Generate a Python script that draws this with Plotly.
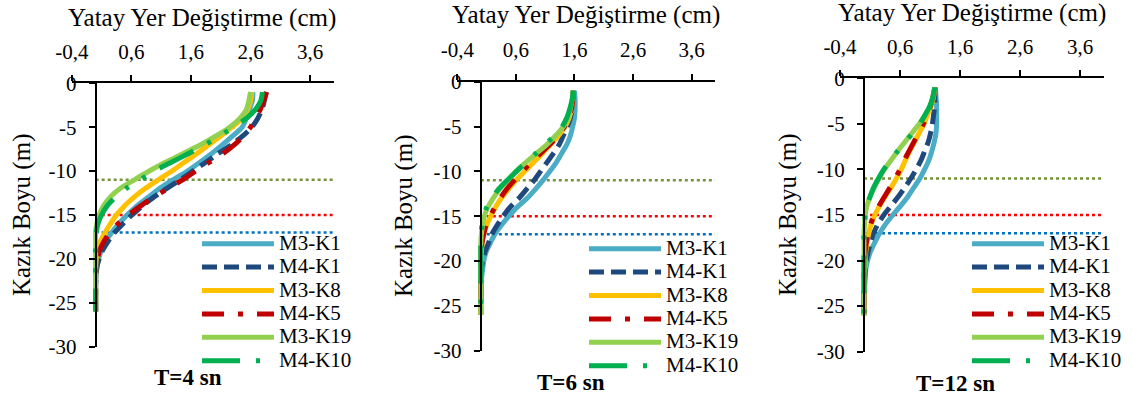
import plotly.graph_objects as go

# ---------------- data ----------------
depth = [-1, -2, -3, -4, -5, -6, -7, -8, -9, -10, -11, -12, -13, -14, -15, -16,
         -17, -18, -19, -20, -21, -22, -23, -24, -25, -26]

series_names = ["M3-K1", "M4-K1", "M3-K8", "M4-K5", "M3-K19", "M4-K10"]
panel_labels = ["T=4 sn", "T=6 sn", "T=12 sn"]
x_tick_vals = [-0.4, 0.6, 1.6, 2.6, 3.6]
x_tick_text = ["-0,4", "0,6", "1,6", "2,6", "3,6"]
y_tick_vals = [0, -5, -10, -15, -20, -25, -30]
y_tick_text = ["0", "-5", "-10", "-15", "-20", "-25", "-30"]
ref_levels = [-11, -15, -17]
ref_x = [0, 4.0]

# T = 4 sn
t4_m3k1 = [2.64, 2.63, 2.58, 2.53, 2.46, 2.30, 2.13, 1.95, 1.75, 1.54, 1.30, 1.07, 0.88,
           0.69, 0.53, 0.39, 0.27, 0.17, 0.10, 0.05, 0.02, 0.01, 0, 0, 0, 0]
t4_m4k1 = [2.86, 2.83, 2.79, 2.72, 2.62, 2.47, 2.28, 2.06, 1.85, 1.63, 1.42, 1.19, 0.97,
           0.78, 0.61, 0.46, 0.32, 0.21, 0.12, 0.06, 0.02, 0.01, 0, 0, 0, 0]
t4_m3k8 = [2.62, 2.60, 2.55, 2.46, 2.29, 2.10, 1.90, 1.70, 1.49, 1.28, 1.05, 0.83, 0.64,
           0.48, 0.35, 0.25, 0.16, 0.08, 0.03, 0.01, 0, 0, 0, 0, 0, 0]
t4_m4k5 = [2.87, 2.82, 2.76, 2.69, 2.60, 2.48, 2.33, 2.14, 1.91, 1.68, 1.46, 1.21, 0.97,
           0.75, 0.55, 0.38, 0.24, 0.14, 0.07, 0.03, 0.01, 0, 0, 0, 0, 0]
t4_m3k19 = [2.60, 2.57, 2.53, 2.42, 2.25, 2.02, 1.76, 1.47, 1.17, 0.90, 0.65, 0.41, 0.24,
            0.13, 0.06, 0.02, 0, 0, 0, 0, 0, 0, 0, 0, 0, 0]
t4_m4k10 = [2.80, 2.77, 2.68, 2.53, 2.32, 2.08, 1.84, 1.56, 1.27, 0.98, 0.75, 0.51, 0.33,
            0.19, 0.10, 0.04, 0.01, 0, 0, 0, 0, 0, 0, 0, 0, 0]

# T = 6 sn
t6_m3k1 = [1.60, 1.61, 1.61, 1.60, 1.57, 1.53, 1.47, 1.38, 1.29, 1.18, 1.06, 0.93, 0.79,
           0.62, 0.48, 0.35, 0.24, 0.16, 0.09, 0.05, 0.03, 0.01, 0, 0, 0, 0]
t6_m4k1 = [1.58, 1.57, 1.56, 1.53, 1.48, 1.41, 1.34, 1.24, 1.13, 1.02, 0.91, 0.78, 0.65,
           0.50, 0.38, 0.28, 0.19, 0.13, 0.07, 0.03, 0.01, 0, 0, 0, 0, 0]
t6_m3k8 = [1.58, 1.57, 1.55, 1.51, 1.44, 1.33, 1.19, 1.05, 0.90, 0.75, 0.60, 0.47, 0.35,
           0.25, 0.17, 0.10, 0.05, 0.02, 0.01, 0, 0, 0, 0, 0, 0, 0]
t6_m4k5 = [1.58, 1.57, 1.55, 1.50, 1.43, 1.32, 1.18, 1.02, 0.86, 0.71, 0.57, 0.44, 0.33,
           0.24, 0.16, 0.09, 0.05, 0.02, 0.01, 0, 0, 0, 0, 0, 0, 0]
t6_m3k19 = [1.58, 1.56, 1.53, 1.49, 1.41, 1.28, 1.13, 0.95, 0.77, 0.60, 0.46, 0.32, 0.21,
            0.12, 0.06, 0.03, 0.01, 0, 0, 0, 0, 0, 0, 0, 0, 0]
t6_m4k10 = [1.58, 1.56, 1.52, 1.47, 1.39, 1.26, 1.10, 0.94, 0.77, 0.61, 0.45, 0.30, 0.19,
            0.10, 0.05, 0.02, 0, 0, 0, 0, 0, 0, 0, 0, 0, 0]

# T = 12 sn
t12_m3k1 = [1.19, 1.20, 1.21, 1.21, 1.21, 1.20, 1.17, 1.13, 1.08, 1.01, 0.93, 0.83, 0.73,
            0.61, 0.48, 0.36, 0.26, 0.18, 0.11, 0.06, 0.03, 0.02, 0.01, 0, 0, 0]
t12_m4k1 = [1.18, 1.18, 1.18, 1.16, 1.14, 1.11, 1.07, 1.01, 0.95, 0.87, 0.78, 0.68, 0.57,
            0.45, 0.33, 0.23, 0.16, 0.11, 0.07, 0.04, 0.02, 0.01, 0, 0, 0, 0]
t12_m3k8 = [1.18, 1.16, 1.12, 1.06, 1.00, 0.92, 0.84, 0.76, 0.69, 0.62, 0.54, 0.45, 0.35,
            0.26, 0.18, 0.12, 0.08, 0.05, 0.03, 0.02, 0.01, 0, 0, 0, 0, 0]
t12_m4k5 = [1.18, 1.15, 1.11, 1.05, 0.99, 0.91, 0.83, 0.75, 0.67, 0.60, 0.52, 0.43, 0.34,
            0.25, 0.17, 0.11, 0.07, 0.04, 0.02, 0.01, 0, 0, 0, 0, 0, 0]
t12_m3k19 = [1.18, 1.15, 1.10, 1.02, 0.92, 0.80, 0.68, 0.56, 0.45, 0.34, 0.25, 0.17, 0.10,
             0.05, 0.02, 0.01, 0, 0, 0, 0, 0, 0, 0, 0, 0, 0]
t12_m4k10 = [1.18, 1.15, 1.10, 1.02, 0.93, 0.81, 0.69, 0.56, 0.44, 0.33, 0.24, 0.16, 0.10,
             0.05, 0.02, 0.01, 0, 0, 0, 0, 0, 0, 0, 0, 0, 0]

panels = [
    [t4_m3k1, t4_m4k1, t4_m3k8, t4_m4k5, t4_m3k19, t4_m4k10],
    [t6_m3k1, t6_m4k1, t6_m3k8, t6_m4k5, t6_m3k19, t6_m4k10],
    [t12_m3k1, t12_m4k1, t12_m3k8, t12_m4k5, t12_m3k19, t12_m4k10],
]

# ---------------- styles ----------------
W, H = 1132, 399
FONT = "'Liberation Serif', 'Times New Roman', Times, serif"
colors = ["#4BACC6", "#1F497D", "#FFC000", "#C00000", "#92D050", "#00B050"]
dashes = ["solid", "15px,7px", "solid", "22px,14px,5px,14px", "solid",
          "38px,16px,4px,16px,4px,16px"]
ref_colors = ["#77933C", "#FF0000", "#0070C0"]

# pixel geometry of each panel: (left, right, top, bottom, x0 pixel)
geom = [
    (71.8, 334.0, 83.3, 346.5, 95.7),
    (457.4, 715.0, 81.7, 350.7, 480.8),
    (840.0, 1104.0, 78.3, 351.7, 864.0),
]
xtitle_pos = [(202, 18), (586, 15), (972, 13)]
ytitle_pos = [(22, 215), (404, 216), (788, 215)]
tlabel_pos = [(188, 377), (571, 382), (955, 383)]
legend_pos = [(197, 227), (584, 232), (967, 227)]

fig = go.Figure()
layout = dict(width=W, height=H, margin=dict(l=0, r=0, t=0, b=0, autoexpand=False),
              autosize=False, paper_bgcolor="white", plot_bgcolor="white",
              font=dict(family=FONT, color="black"), annotations=[])

for p in range(3):
    sfx = "" if p == 0 else str(p + 1)
    xa, ya = "x" + sfx, "y" + sfx
    lg = "legend" + sfx
    # reference level lines
    for lvl, rc in zip(ref_levels, ref_colors):
        fig.add_trace(go.Scatter(x=ref_x, y=[lvl, lvl], mode="lines", xaxis=xa, yaxis=ya,
                                 line=dict(color=rc, width=2.5, dash="dot"),
                                 showlegend=False, hoverinfo="skip"))
    for name, vals, c, d in zip(series_names, panels[p], colors, dashes):
        fig.add_trace(go.Scatter(x=vals, y=depth, mode="lines",
                                 name='<span style="font-size:21px">' + name + "</span>",
                                 xaxis=xa, yaxis=ya,
                                 line=dict(color=c, width=5, dash=d, shape="spline", smoothing=0.6),
                                 legend=lg))
    l, r, t, b, x0 = geom[p]
    layout["xaxis" + sfx] = dict(
        domain=[l / W, r / W], range=[-0.4, 4.0], anchor=ya, side="top",
        tickvals=x_tick_vals, ticktext=x_tick_text, ticks="outside", ticklen=6, tickwidth=2,
        tickcolor="black", showline=True, linewidth=2, linecolor="black", showgrid=False,
        zeroline=False, tickfont=dict(family=FONT, size=21, color="black"),
        ticklabelstandoff=8)
    layout["yaxis" + sfx] = dict(
        domain=[1 - b / H, 1 - t / H], range=[-30, 0], anchor="free", position=x0 / W,
        tickvals=y_tick_vals, ticktext=y_tick_text, ticks="outside", ticklen=6, tickwidth=2,
        tickcolor="black", showline=True, linewidth=2, linecolor="black", showgrid=False,
        zeroline=False, tickfont=dict(family=FONT, size=21, color="black"),
        ticklabelstandoff=8)
    lx, ly = legend_pos[p]
    layout[lg] = dict(x=lx / W, y=1 - ly / H, xanchor="left", yanchor="top",
                      bgcolor="rgba(0,0,0,0)", font=dict(family=FONT, size=15.7, color="black"),
                      itemwidth=72, tracegroupgap=0)
    tx, ty = xtitle_pos[p]
    layout["annotations"].append(dict(text="Yatay Yer Değiştirme (cm)", x=tx / W, y=1 - ty / H,
                                      xref="paper", yref="paper", showarrow=False,
                                      xanchor="center", yanchor="middle",
                                      font=dict(family=FONT, size=25, color="black")))
    yx, yy = ytitle_pos[p]
    layout["annotations"].append(dict(text="Kazık Boyu (m)", x=yx / W, y=1 - yy / H,
                                      xref="paper", yref="paper", showarrow=False, textangle=-90,
                                      xanchor="center", yanchor="middle",
                                      font=dict(family=FONT, size=25, color="black")))
    px, py = tlabel_pos[p]
    layout["annotations"].append(dict(text="<b>" + panel_labels[p] + "</b>", x=px / W, y=1 - py / H,
                                      xref="paper", yref="paper", showarrow=False,
                                      xanchor="center", yanchor="middle",
                                      font=dict(family=FONT, size=23, color="black")))

fig.update_layout(**layout)
fig.write_html("out.html")
